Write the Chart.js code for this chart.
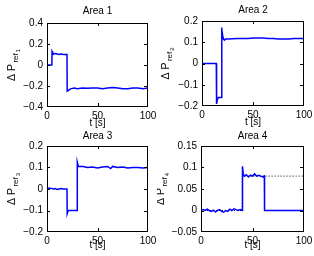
<!DOCTYPE html>
<html>
<head>
<meta charset="UTF-8">
<script src="https://cdn.jsdelivr.net/npm/chart.js"></script>
<style>
  body { margin: 0; background: #fff; }
  .box { position: absolute; width: 157px; height: 128px; }
</style>
</head>
<body>
<div class="box" style="left:0;top:0"><canvas id="c1" width="157" height="128"></canvas></div>
<div class="box" style="left:157px;top:0"><canvas id="c2" width="157" height="128"></canvas></div>
<div class="box" style="left:0;top:128px"><canvas id="c3" width="157" height="128"></canvas></div>
<div class="box" style="left:157px;top:128px"><canvas id="c4" width="157" height="128"></canvas></div>
<script>
// data
const t1 = [0, 4.8, 5, 5.5, 6.5, 8, 10, 12, 14, 16, 18, 19.8, 20, 21, 22, 24, 27, 30, 35, 40, 45, 50, 55, 60, 65, 70, 75, 80, 85, 90, 95, 100];
const p1 = [0, 0, 0.13, 0.12, 0.105, 0.11, 0.105, 0.10, 0.105, 0.10, 0.10, 0.10, -0.25, -0.245, -0.235, -0.225, -0.22, -0.225, -0.22, -0.222, -0.218, -0.22, -0.225, -0.22, -0.215, -0.22, -0.225, -0.225, -0.22, -0.22, -0.225, -0.22];

const t2 = [0, 5, 10, 14, 14.3, 15, 16, 17, 18.8, 19.2, 19.6, 20.3, 21, 22, 23, 25, 30, 35, 40, 45, 50, 55, 60, 65, 70, 75, 80, 85, 90, 95, 100];
const p2 = [0, 0, 0, 0, -0.19, -0.17, -0.16, -0.16, -0.16, 0.17, 0.16, 0.13, 0.115, 0.11, 0.115, 0.115, 0.117, 0.118, 0.118, 0.118, 0.12, 0.12, 0.12, 0.118, 0.118, 0.115, 0.115, 0.115, 0.118, 0.118, 0.118];

const t3 = [0, 2, 4, 6, 8, 10, 12, 14, 16, 18, 19.8, 20, 21, 22, 25, 28, 29.8, 30, 31, 33, 36, 40, 45, 50, 55, 60, 63, 65, 70, 75, 80, 85, 90, 95, 100];
const p3 = [0, 0.005, 0.003, 0, 0.002, -0.002, 0, 0.002, 0, 0, 0, -0.115, -0.1, -0.1, -0.1, -0.1, -0.1, 0.125, 0.105, 0.105, 0.105, 0.1, 0.102, 0.098, 0.102, 0.105, 0.095, 0.105, 0.1, 0.102, 0.098, 0.1, 0.1, 0.098, 0.1];

const t4 = [0, 2, 4, 6, 8, 10, 12, 14, 16, 18, 20, 22, 24, 26, 28, 30, 32, 34, 36, 38, 40, 40.3, 41, 42, 44, 46, 48, 50, 52, 54, 56, 58, 60, 61.5, 61.7, 65, 70, 80, 90, 100];
const p4 = [0, 0.002, 0, 0.003, 0, -0.002, 0.001, -0.003, 0, 0.002, -0.002, -0.004, 0, -0.002, 0.003, 0, 0.004, 0.002, 0, 0.002, 0, 0.103, 0.085, 0.08, 0.083, 0.078, 0.082, 0.08, 0.085, 0.08, 0.082, 0.08, 0.078, 0.08, 0, 0, 0, 0, 0, 0];

// dotted reference in area 4
const r4t = [0, 40, 40, 100];
const r4 = [0, 0, 0.08, 0.08];

const titles = ['Area 1', 'Area 2', 'Area 3', 'Area 4'];
const yTicks1 = [-0.4, -0.2, 0, 0.2, 0.4];
const yTicks2 = [-0.2, -0.1, 0, 0.1, 0.2];
const yTicks3 = [-0.2, -0.1, 0, 0.1, 0.2];
const yTicks4 = [-0.05, 0, 0.05, 0.1, 0.15];
const xTicks = [0, 50, 100];

const FONT = '"Liberation Sans", Arial, sans-serif';
const FS = 10;

function pts(t, v) { return t.map((x, i) => ({ x: x, y: v[i] })); }
function fmt(v) { return String(Number(v.toFixed(2))).replace('-', '\u2212'); }

// box and inward ticks, drawn as the last step
const boxPlugin = {
  id: 'boxPlugin',
  afterDraw(chart) {
    const ctx = chart.ctx, a = chart.chartArea;
    const xs = chart.scales.x, ys = chart.scales.y;
    const L = Math.round(a.left), R = Math.round(a.right) - 1;
    const T = Math.round(a.top), B = Math.round(a.bottom) - 1;
    ctx.save();
    ctx.strokeStyle = '#000000';
    ctx.lineWidth = 1;
    ctx.strokeRect(L + 0.5, T + 0.5, R - L, B - T);
    ctx.beginPath();
    xs.ticks.forEach(tk => {
      const x = Math.min(Math.round(xs.getPixelForValue(tk.value)), R) + 0.5;
      ctx.moveTo(x, B); ctx.lineTo(x, B - 3);
      ctx.moveTo(x, T); ctx.lineTo(x, T + 3);
    });
    ys.ticks.forEach(tk => {
      const y = Math.min(Math.round(ys.getPixelForValue(tk.value)), B) + 0.5;
      ctx.moveTo(L, y); ctx.lineTo(L + 3, y);
      ctx.moveTo(R, y); ctx.lineTo(R - 3, y);
    });
    ctx.stroke();
    ctx.restore();
  }
};

// title, x label and y label with subscripts
const labels = {
  id: 'labels',
  afterDraw(chart, args, o) {
    const ctx = chart.ctx, a = chart.chartArea;
    const cx = (a.left + a.right) / 2;
    ctx.save();
    ctx.fillStyle = '#000';
    ctx.textAlign = 'center';
    ctx.textBaseline = 'middle';
    ctx.font = FS + 'px ' + FONT;
    ctx.fillText(o.title, cx, a.top - o.titleGap);
    ctx.fillText('t [s]', cx, a.bottom + o.xlabGap);

    ctx.translate(o.ylabX, (a.top + a.bottom) / 2);
    ctx.rotate(-Math.PI / 2);
    ctx.textAlign = 'left';
    ctx.textBaseline = 'alphabetic';
    ctx.font = '10.5px ' + FONT;
    const w1 = ctx.measureText('\u0394 P').width + 1.5;
    ctx.font = '8px ' + FONT;
    const w2 = ctx.measureText('ref').width + 1;
    ctx.font = '6px ' + FONT;
    const w3 = ctx.measureText(o.idx).width;
    const s = -(w1 + w2 + w3) / 2;
    ctx.font = '10.5px ' + FONT;
    ctx.fillText('\u0394 P', s, 0);
    ctx.font = '8px ' + FONT;
    ctx.fillText('ref', s + w1, 3);
    ctx.font = '6px ' + FONT;
    ctx.fillText(o.idx, s + w1 + w2, 5);
    ctx.restore();
  }
};

function makeChart(id, cfg) {
  const datasets = [{
    data: pts(cfg.t, cfg.p),
    borderColor: '#0000ff',
    borderWidth: 1.5,
    pointRadius: 0,
    tension: 0
  }];
  if (cfg.rt) {
    datasets.push({
      data: pts(cfg.rt, cfg.r),
      borderColor: '#000',
      borderWidth: 1,
      borderDash: [1, 2],
      pointRadius: 0,
      tension: 0
    });
  }
  new Chart(document.getElementById(id), {
    type: 'line',
    data: { datasets: datasets },
    options: {
      responsive: false,
      animation: false,
      layout: { padding: { top: cfg.top, right: cfg.right, left: 0, bottom: 0 } },
      plugins: {
        legend: { display: false },
        tooltip: { enabled: false },
        labels: { title: cfg.title, idx: cfg.idx, titleGap: cfg.titleGap, xlabGap: cfg.xlabGap, ylabX: cfg.ylabX }
      },
      scales: {
        x: {
          type: 'linear', min: 0, max: 100,
          grid: { display: false, drawTicks: false },
          border: { display: false },
          afterBuildTicks: s => { s.ticks = xTicks.map(v => ({ value: v })); },
          ticks: { color: '#000', padding: 3, maxRotation: 0, font: { size: FS, family: FONT }, callback: v => String(v) },
          afterFit: s => { s.height = cfg.bottom; s.paddingLeft = 0; s.paddingRight = 0; }
        },
        y: {
          type: 'linear', min: cfg.yt[0], max: cfg.yt[cfg.yt.length - 1],
          grid: { display: false, drawTicks: false },
          border: { display: false },
          afterBuildTicks: s => { s.ticks = cfg.yt.map(v => ({ value: v })); },
          ticks: { color: '#000', padding: 4, font: { size: FS, family: FONT }, callback: v => fmt(v) },
          afterFit: s => { s.width = cfg.left; s.paddingTop = 0; s.paddingBottom = 0; }
        }
      }
    },
    plugins: [labels, boxPlugin]
  });
}

makeChart('c1', { t: t1, p: p1, yt: yTicks1, title: titles[0], idx: '1', left: 47, right: 9, top: 23, bottom: 21, titleGap: 12, xlabGap: 16, ylabX: 15 });
makeChart('c2', { t: t2, p: p2, yt: yTicks2, title: titles[1], idx: '2', left: 45, right: 10, top: 21, bottom: 22, titleGap: 11, xlabGap: 16, ylabX: 12 });
makeChart('c3', { t: t3, p: p3, yt: yTicks3, title: titles[2], idx: '3', left: 47, right: 9, top: 18, bottom: 24, titleGap: 10, xlabGap: 13, ylabX: 15 });
makeChart('c4', { t: t4, p: p4, rt: r4t, r: r4, yt: yTicks4, title: titles[3], idx: '4', left: 44, right: 10, top: 18, bottom: 24, titleGap: 10, xlabGap: 13, ylabX: 7 });
</script>
</body>
</html>
